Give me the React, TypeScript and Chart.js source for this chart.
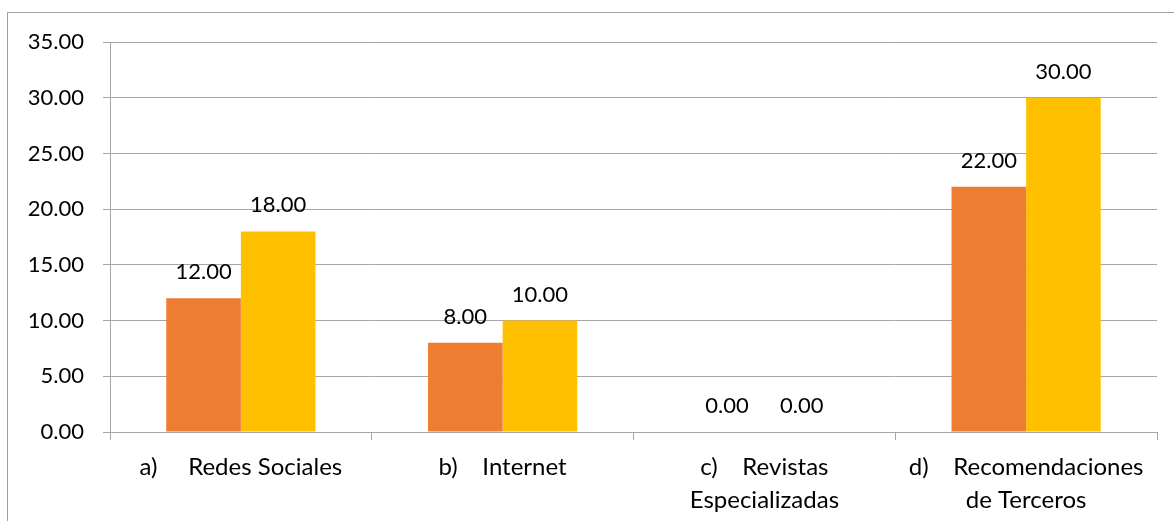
import React, { useEffect, useRef } from "react";
import { Chart, registerables } from "chart.js";

Chart.register(...registerables);

// Category labels (multi-line where the axis wraps them)
const categories: string[][] = [
  ["a)     Redes Sociales"],
  ["b)    Internet"],
  ["c)    Revistas", "Especializadas"],
  ["d)    Recomendaciones", "de Terceros"],
];

// Two series per category
const seriesOrange: number[] = [12, 8, 0, 22];
const seriesGold: number[] = [18, 10, 0, 30];

// Value axis
const yMin = 0;
const yMax = 35;
const yStep = 5;

const FONT_FAMILY = "Lato, 'Open Sans', sans-serif";
const FONT_SIZE = 22;
const CAT_FONT_SIZE = 24;
const GRID = "#a6a6a6";
const TEXT = "#000000";

// Draws the value of each bar just above it
const valueLabels = {
  id: "valueLabels",
  afterDatasetsDraw(chart: any) {
    const { ctx } = chart;
    ctx.save();
    ctx.font = `${FONT_SIZE}px ${FONT_FAMILY}`;
    ctx.fillStyle = TEXT;
    ctx.textAlign = "center";
    ctx.textBaseline = "alphabetic";
    chart.data.datasets.forEach((ds: any, i: number) => {
      const meta = chart.getDatasetMeta(i);
      meta.data.forEach((bar: any, j: number) => {
        const v = ds.data[j] as number;
        ctx.fillText(v.toFixed(2), bar.x, bar.y - 19);
      });
    });
    ctx.restore();
  },
};

export default function App() {
  const canvasRef = useRef<HTMLCanvasElement | null>(null);

  useEffect(() => {
    let chart: Chart | null = null;
    let cancelled = false;

    const build = () => {
      if (cancelled || !canvasRef.current) return;
      chart = new Chart(canvasRef.current, {
        type: "bar",
        data: {
          labels: categories,
          datasets: [
            {
              data: seriesOrange,
              backgroundColor: "#ED7D31",
              borderWidth: 0,
              categoryPercentage: 0.57,
              barPercentage: 1,
            },
            {
              data: seriesGold,
              backgroundColor: "#FFC000",
              borderWidth: 0,
              categoryPercentage: 0.57,
              barPercentage: 1,
            },
          ],
        },
        options: {
          animation: false,
          responsive: false,
          events: [],
          layout: { padding: { top: 42, right: 17, left: 0, bottom: 0 } },
          plugins: {
            legend: { display: false },
            title: { display: false },
            tooltip: { enabled: false },
          },
          scales: {
            x: {
              afterFit: (s: any) => {
                s.height = 89;
              },
              grid: {
                display: true,
                drawOnChartArea: false,
                drawTicks: true,
                tickLength: 8,
                color: GRID,
                lineWidth: 1,
              },
              border: { display: true, color: GRID, width: 1 },
              ticks: {
                color: TEXT,
                padding: 11,
                maxRotation: 0,
                autoSkip: false,
                font: { family: FONT_FAMILY, size: CAT_FONT_SIZE, lineHeight: 1.375 },
              },
            },
            y: {
              min: yMin,
              max: yMax,
              afterFit: (s: any) => {
                s.width = 110;
              },
              grid: {
                color: GRID,
                lineWidth: 1,
                drawTicks: true,
                tickLength: 7,
              },
              border: { display: true, color: GRID, width: 1 },
              ticks: {
                stepSize: yStep,
                color: TEXT,
                padding: 19,
                font: { family: FONT_FAMILY, size: FONT_SIZE },
                callback: (v: any) => Number(v).toFixed(2),
              },
            },
          },
        },
        plugins: [valueLabels],
      });
    };

    const fonts: any = (document as any).fonts;
    if (fonts && fonts.load) {
      Promise.all([
        fonts.load(`${FONT_SIZE}px Lato`),
        fonts.load(`${CAT_FONT_SIZE}px Lato`),
      ]).then(build, build);
    } else {
      build();
    }

    return () => {
      cancelled = true;
      if (chart) chart.destroy();
    };
  }, []);

  return (
    <div
      style={{
        position: "absolute",
        left: 0,
        top: 0,
        width: 1174,
        height: 521,
        overflow: "hidden",
        background: "#ffffff",
      }}
    >
      <div
        style={{
          position: "absolute",
          left: 7,
          top: 12,
          width: 1300,
          height: 700,
          border: "1px solid #a0a0a0",
          boxSizing: "border-box",
        }}
      />
      <canvas
        ref={canvasRef}
        width={1174}
        height={521}
        style={{ position: "absolute", left: 0, top: 0, display: "block" }}
      />
    </div>
  );
}
